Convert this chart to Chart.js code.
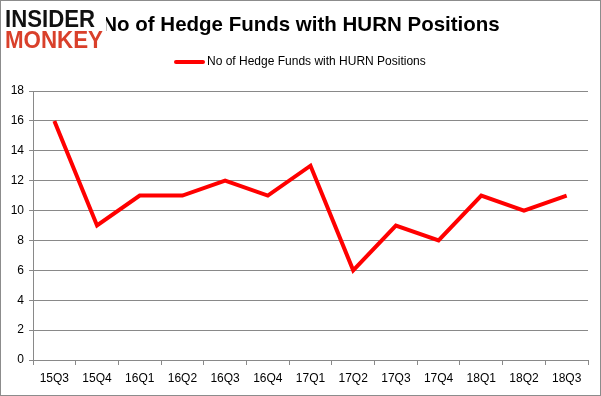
<!DOCTYPE html>
<html>
<head>
<meta charset="utf-8">
<script src="https://cdn.jsdelivr.net/npm/chart.js@4"></script>
<style>
  html, body { margin: 0; padding: 0; background: #fff; }
  #wrap { width: 601px; height: 396px; position: relative; }
</style>
</head>
<body>
<div id="wrap"><canvas id="myChart" width="601" height="396"></canvas></div>
<script>
'use strict';
// data
let quarters = ['15Q3', '15Q4', '16Q1', '16Q2', '16Q3', '16Q4', '17Q1', '17Q2', '17Q3', '17Q4', '18Q1', '18Q2', '18Q3'];
let fundCounts = [16, 9, 11, 11, 12, 11, 13, 6, 9, 8, 11, 10, 11];
let yTicks = [0, 2, 4, 6, 8, 10, 12, 14, 16, 18];
let seriesName = 'No of Hedge Funds with HURN Positions';
let chartTitle = 'No of Hedge Funds with HURN Positions';

let fontName = '"Liberation Sans", Arial, sans-serif';
let gridColor = '#898989';

// stretch a word so it fills a given width
function wideText(ctx, text, x, y, width) {
    let w = ctx.measureText(text).width;
    ctx.save();
    ctx.translate(x, y);
    ctx.scale(width / w, 1);
    ctx.fillText(text, 0, 0);
    ctx.restore();
}

// title, legend, logo and frame drawn by hand
let decorations = {
    id: 'decorations',
    afterDraw(chart) {
        let ctx = chart.ctx;
        ctx.save();

        // title
        ctx.fillStyle = '#000';
        ctx.font = 'bold 20.5px ' + fontName;
        ctx.textAlign = 'center';
        ctx.textBaseline = 'middle';
        ctx.fillText(chartTitle, 301, 25);

        // legend
        ctx.strokeStyle = '#ff0000';
        ctx.lineWidth = 4;
        ctx.lineCap = 'round';
        ctx.beginPath();
        ctx.moveTo(176, 62);
        ctx.lineTo(203, 62);
        ctx.stroke();
        ctx.font = '12px ' + fontName;
        ctx.textAlign = 'left';
        ctx.fillStyle = '#000';
        ctx.fillText(chart.data.datasets[0].label, 207, 62);

        // logo
        ctx.fillStyle = '#fff';
        ctx.fillRect(3, 6, 103, 46);
        ctx.font = 'bold 24px ' + fontName;
        ctx.textBaseline = 'alphabetic';
        ctx.fillStyle = '#111';
        wideText(ctx, 'INSIDER', 5, 27, 90);
        ctx.fillStyle = '#d9402b';
        wideText(ctx, 'MONKEY', 5, 48, 98);

        // frame
        ctx.strokeStyle = '#8c8c8c';
        ctx.lineWidth = 1;
        ctx.strokeRect(0.5, 0.5, 600, 395);
        ctx.restore();
    }
};

let ctx = document.getElementById('myChart').getContext('2d');
let myChart = new Chart(ctx, {
    type: 'line',
    data: {
        labels: quarters,
        datasets: [{
            label: seriesName,
            data: fundCounts,
            borderColor: '#ff0000',
            backgroundColor: '#ff0000',
            borderWidth: 4,
            pointRadius: 0,
            tension: 0
        }]
    },
    options: {
        responsive: false,
        animation: false,
        events: [],
        layout: { padding: { top: 91, right: 13, bottom: 0, left: 0 } },
        plugins: {
            legend: { display: false },
            title: { display: false },
            tooltip: { enabled: false }
        },
        scales: {
            x: {
                offset: true,
                grid: {
                    offset: true,
                    drawOnChartArea: false,
                    drawTicks: true,
                    tickLength: 5,
                    color: gridColor
                },
                border: { color: gridColor, width: 1 },
                ticks: {
                    color: '#000',
                    font: { family: fontName, size: 12 },
                    maxRotation: 0,
                    autoSkip: false,
                    padding: 6
                },
                afterFit(scale) { scale.height = 36; }
            },
            y: {
                min: 0,
                max: 18,
                afterBuildTicks(scale) {
                    scale.ticks = yTicks.map(v => ({ value: v }));
                },
                grid: {
                    color: gridColor,
                    tickLength: 4
                },
                border: { color: gridColor, width: 1 },
                ticks: {
                    color: '#000',
                    font: { family: fontName, size: 12 },
                    padding: 5
                },
                afterFit(scale) { scale.width = 33; }
            }
        }
    },
    plugins: [decorations]
});
</script>
</body>
</html>
